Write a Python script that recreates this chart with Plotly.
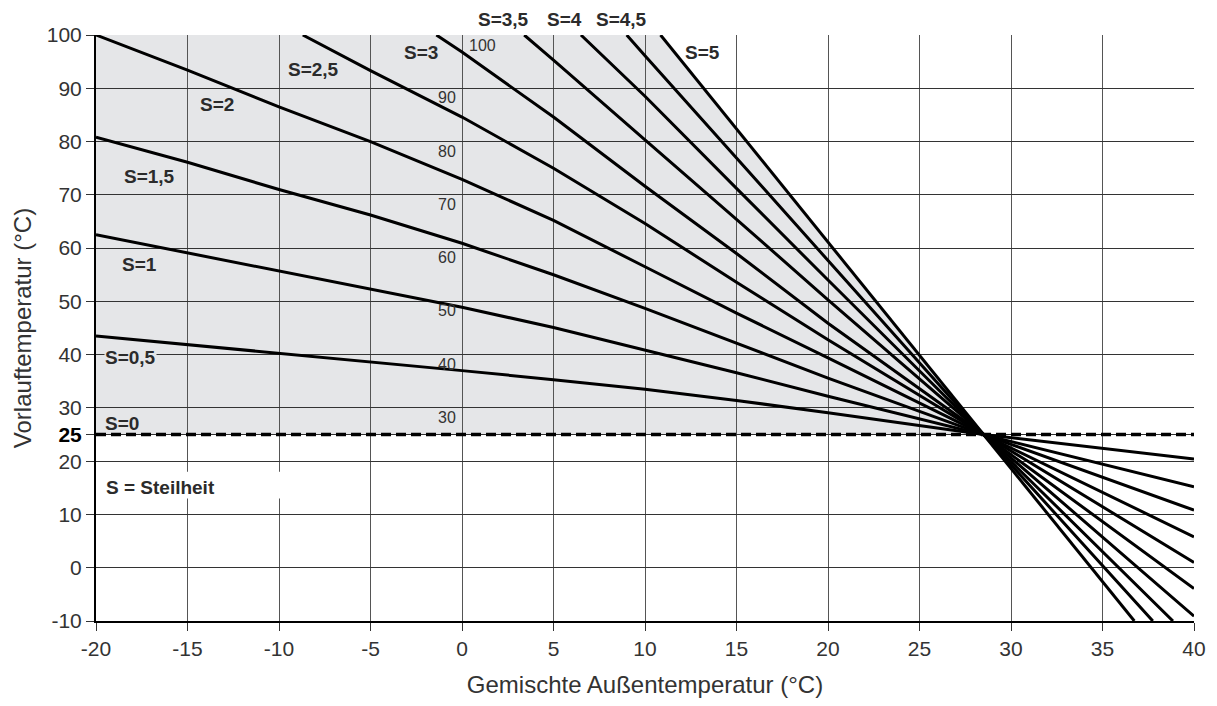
import plotly.graph_objects as go

# ---------------- data ----------------
steepness_labels = ["S=0,5", "S=1", "S=1,5", "S=2", "S=2,5", "S=3", "S=3,5", "S=4", "S=4,5", "S=5"]

s05_x = [-20, -15, -10, -5, 0, 5, 10, 15, 20, 28.5, 40]
s05_y = [43.5, 41.9, 40.3, 38.6, 37.0, 35.3, 33.5, 31.4, 29.1, 25, 20.4]

s1_x = [-20, -15, -10, -5, 0, 5, 10, 15, 20, 28.5, 40]
s1_y = [62.5, 59.1, 55.8, 52.3, 48.9, 45.1, 40.9, 36.6, 32.2, 25, 15.2]

s15_x = [-20, -15, -10, -5, 0, 5, 10, 15, 20, 28.5, 40]
s15_y = [80.8, 76.1, 71.0, 66.2, 60.9, 55.0, 48.7, 42.2, 35.6, 25, 10.8]

s2_x = [-20, -15, -10, -5, 0, 5, 10, 15, 20, 28.5, 40]
s2_y = [100, 93.4, 86.5, 80.0, 72.9, 65.2, 56.5, 47.8, 39.4, 25, 5.8]

s25_x = [-8.7, -5, 0, 5, 10, 15, 20, 28.5, 40]
s25_y = [100, 93.3, 84.6, 75.0, 64.6, 53.6, 42.8, 25, 1.0]

s3_x = [-1.4, 0, 5, 10, 15, 20, 28.5, 40]
s3_y = [100, 96.8, 84.6, 71.6, 59.0, 45.9, 25, -3.9]

s35_x = [3.4, 5, 10, 15, 20, 28.5, 40]
s35_y = [100, 95.3, 80.3, 65.4, 50.3, 25, -9.1]

s4_x = [6.5, 10, 15, 20, 28.5, 38.85]
s4_y = [100, 88.5, 71.2, 54.0, 25, -10]

s45_x = [9.0, 10, 15, 20, 28.5, 37.75]
s45_y = [100, 96.1, 76.9, 57.6, 25, -10]

s5_x = [10.85, 15, 20, 28.5, 36.74]
s5_y = [100, 82.4, 61.0, 25, -10]

base_level = 25            # S=0 line (dashed)
x_ticks = [-20, -15, -10, -5, 0, 5, 10, 15, 20, 25, 30, 35, 40]
y_ticks = [-10, 0, 10, 20, 25, 30, 40, 50, 60, 70, 80, 90, 100]
inner_scale = [100, 90, 80, 70, 60, 50, 40, 30]

curves_x = [s05_x, s1_x, s15_x, s2_x, s25_x, s3_x, s35_x, s4_x, s45_x, s5_x]
curves_y = [s05_y, s1_y, s15_y, s2_y, s25_y, s3_y, s35_y, s4_y, s45_y, s5_y]

# label placement (data x, data y; labels above the plot use paper y)
label_pos = {
    "S=0,5": (-18.1, 39.4), "S=1": (-17.6, 57.0), "S=1,5": (-17.05, 73.5),
    "S=2": (-13.4, 86.9), "S=2,5": (-8.1, 93.6), "S=3": (-2.26, 96.8),
    "S=3,5": (2.25, None), "S=4": (5.6, None), "S=4,5": (8.71, None),
    "S=5": (13.15, 96.8),
}

GREY = "#e5e6e8"
FONT = "Liberation Sans, Arial, Helvetica, sans-serif"
LBL = dict(family=FONT, size=19, color="#2b2b2b")

fig = go.Figure()

xmin, xmax, ymin, ymax = -20, 40, -10, 100

# shaded area: above the S=0 line, left of the S=5 curve
path = f"M {xmin},{base_level} L {xmin},{ymax} "
for xv, yv in zip(s5_x, s5_y):
    if yv >= base_level:
        path += f"L {xv},{yv} "
path += "Z"
fig.add_shape(type="path", path=path, xref="x", yref="y",
              fillcolor=GREY, line=dict(width=0), layer="below")

# white box behind "S = Steilheit"
fig.add_shape(type="rect", xref="x", yref="y", x0=-19.9, x1=-9.85, y0=13.0, y1=18.0,
              fillcolor="white", line=dict(width=0), layer="between")

# S=0 dashed line
fig.add_trace(go.Scatter(x=[xmin, xmax], y=[base_level, base_level], mode="lines",
                         line=dict(color="black", width=3.5, dash="10px,5px"),
                         hoverinfo="skip"))

for name, xs, ys in zip(steepness_labels, curves_x, curves_y):
    fig.add_trace(go.Scatter(x=xs, y=ys, mode="lines", name=name,
                             line=dict(color="black", width=3)))

# curve labels
bg_labels = {"S=0,5", "S=2", "S=1"}
for name in steepness_labels:
    lx, ly = label_pos[name]
    if ly is None:
        fig.add_annotation(x=lx, y=1.0256, xref="x", yref="paper", yanchor="middle",
                           text=f"<b>{name}</b>", showarrow=False, font=LBL)
    else:
        fig.add_annotation(x=lx, y=ly, xref="x", yref="y", text=f"<b>{name}</b>",
                           showarrow=False, font=LBL,
                           bgcolor=GREY if name in bg_labels else None, borderpad=0)
fig.add_annotation(x=-18.6, y=27.1, xref="x", yref="y", text="<b>S=0</b>", showarrow=False,
                   font=LBL)
fig.add_annotation(x=-19.55, y=15.1, xref="x", yref="y", text="<b>S = Steilheit</b>",
                   showarrow=False, xanchor="left", font=LBL)

# inner scale labels near x = 0
for v in inner_scale:
    if v == 100:
        fig.add_annotation(x=0.3, y=v - 1.9, xref="x", yref="y", text=str(v), showarrow=False,
                           xanchor="left", font=dict(family=FONT, size=16, color="#333"))
    else:
        fig.add_annotation(x=-0.2, y=v - 1.8, xref="x", yref="y", text=str(v), showarrow=False,
                           xanchor="right", font=dict(family=FONT, size=16, color="#333"))

y_text = ["<b><span style='color:black'>25</span></b>" if v == 25 else str(v) for v in y_ticks]

fig.update_layout(
    width=1201, height=690,
    margin=dict(l=88, r=15, t=27, b=77),
    plot_bgcolor="white", paper_bgcolor="white",
    showlegend=False,
    font=dict(family=FONT, size=21, color="#333"),
)
fig.update_xaxes(range=[xmin, xmax], tickvals=x_ticks, ticktext=[str(v) for v in x_ticks],
                 showgrid=True, gridcolor="#555", gridwidth=1, zeroline=False,
                 showline=True, linecolor="black", linewidth=2, automargin=False,
                 ticks="outside", ticklen=8, tickcolor="#333", tickwidth=1,
                 title=dict(text="Gemischte Außentemperatur (°C)", font=dict(size=24, color="#333"),
                            standoff=19))
fig.update_yaxes(range=[ymin, ymax], tickvals=y_ticks, ticktext=y_text,
                 showgrid=True, gridcolor="#333", gridwidth=1, zeroline=False,
                 showline=True, linecolor="black", linewidth=2, automargin=False,
                 ticks="outside", ticklen=8, tickcolor="#333", tickwidth=1,
                 title=dict(text="Vorlauftemperatur (°C)", font=dict(size=24, color="#333"),
                            standoff=8))

fig.write_html("out.html")
